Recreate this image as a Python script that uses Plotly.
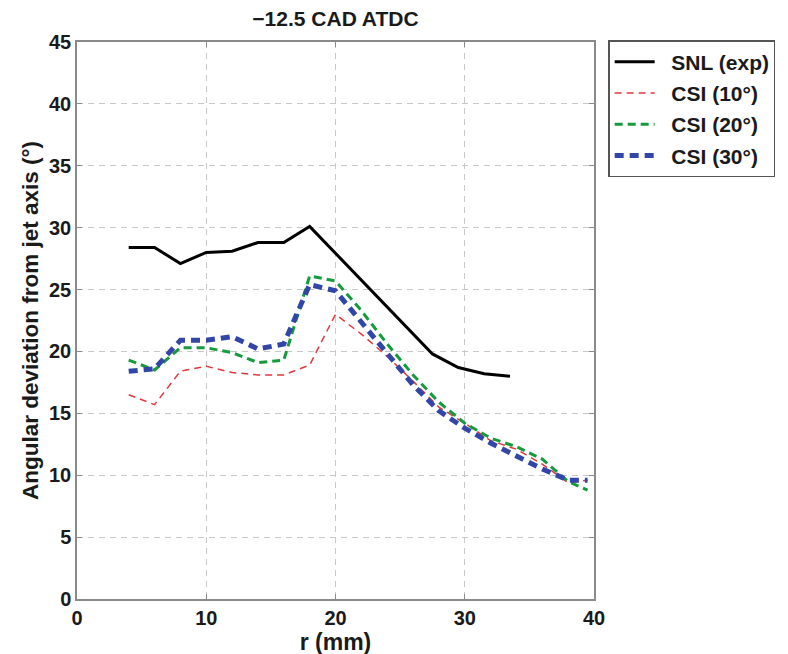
import plotly.graph_objects as go

# Data
snl_r = [4, 6, 8, 10, 12, 14, 16, 18, 27.5, 29.5, 31.5, 33.5]
snl_dev = [28.4, 28.4, 27.1, 28.0, 28.1, 28.8, 28.8, 30.1, 19.8, 18.7, 18.2, 18.0]

csi_r = [4, 6, 8, 10, 12, 14, 16, 18, 20, 22, 24, 26, 28, 30, 32, 34, 36, 38, 39.5]
csi10 = [16.5, 15.7, 18.4, 18.8, 18.3, 18.1, 18.1, 18.9, 23.0, 21.4, 19.6, 17.6, 15.5, 14.2, 12.8, 12.1, 10.9, 9.4, 9.6]
csi20 = [19.3, 18.5, 20.3, 20.3, 19.9, 19.1, 19.3, 26.1, 25.7, 23.3, 20.6, 18.1, 15.9, 14.2, 13.0, 12.3, 11.3, 9.5, 8.8]
csi30 = [18.4, 18.6, 20.9, 20.9, 21.2, 20.2, 20.6, 25.4, 24.9, 22.4, 19.8, 17.3, 15.2, 13.8, 12.6, 11.5, 10.5, 9.6, 9.6]

x_ticks = [0, 10, 20, 30, 40]
y_ticks = [0, 5, 10, 15, 20, 25, 30, 35, 40, 45]

FONT = "Liberation Sans, Arial, sans-serif"
TXT = "#1a1a1a"
PAD = "\u00a0\u00a0"

fig = go.Figure()
fig.add_trace(go.Scatter(x=snl_r, y=snl_dev, mode="lines", name=f"{PAD}<b>SNL (exp)</b>", legendgroup="a",
                         line=dict(color="black", width=3)))
fig.add_trace(go.Scatter(x=csi_r, y=csi10, mode="lines", name=f"{PAD}<b>CSI (10°)</b>", legendgroup="b",
                         line=dict(color="#e0383f", width=1.5, dash="7px,5px")))
fig.add_trace(go.Scatter(x=csi_r, y=csi20, mode="lines", name=f"{PAD}<b>CSI (20°)</b>", legendgroup="c",
                         line=dict(color="#169b3c", width=3, dash="8px,5px")))
fig.add_trace(go.Scatter(x=csi_r, y=csi30, mode="lines", name=f"{PAD}<b>CSI (30°)</b>", legendgroup="d",
                         line=dict(color="#3246a8", width=5, dash="9px,6px")))

axis_common = dict(showline=True, linecolor="#8a8a8a", linewidth=1.5, mirror="ticks",
                   ticks="inside", ticklen=5, tickcolor="#8a8a8a",
                   showgrid=True, gridcolor="#c8c8c8", griddash="6px,5px", gridwidth=1,
                   zeroline=False, tickfont=dict(family=FONT, size=20, color=TXT))

fig.update_layout(
    width=788, height=654,
    paper_bgcolor="white", plot_bgcolor="white",
    margin=dict(l=69, r=202, t=34, b=63),
    title=dict(text="<b>\u221212.5 CAD ATDC</b>", x=0.5, xref="paper", y=0.983, yanchor="middle",
               font=dict(family=FONT, size=21, color=TXT)),
    xaxis=dict(range=[0, 40], tickvals=x_ticks, ticktext=[f"<b>{v}</b>" for v in x_ticks],
               title=dict(text="<b>r (mm)</b>", font=dict(family=FONT, size=23, color=TXT), standoff=2),
               **axis_common),
    yaxis=dict(range=[0, 45], tickvals=y_ticks, ticktext=[f"<b>{v}</b>" for v in y_ticks],
               title=dict(text="<b>Angular deviation from jet axis (°)</b>",
                          font=dict(family=FONT, size=22.5, color=TXT), standoff=4),
               **axis_common),
    legend=dict(x=1.028, xanchor="left", y=1.003, yanchor="top",
                bordercolor="#555555", borderwidth=1.2, bgcolor="white",
                font=dict(family=FONT, size=21, color=TXT),
                tracegroupgap=1, itemwidth=40),
    showlegend=True,
)

fig.write_html("out.html")
